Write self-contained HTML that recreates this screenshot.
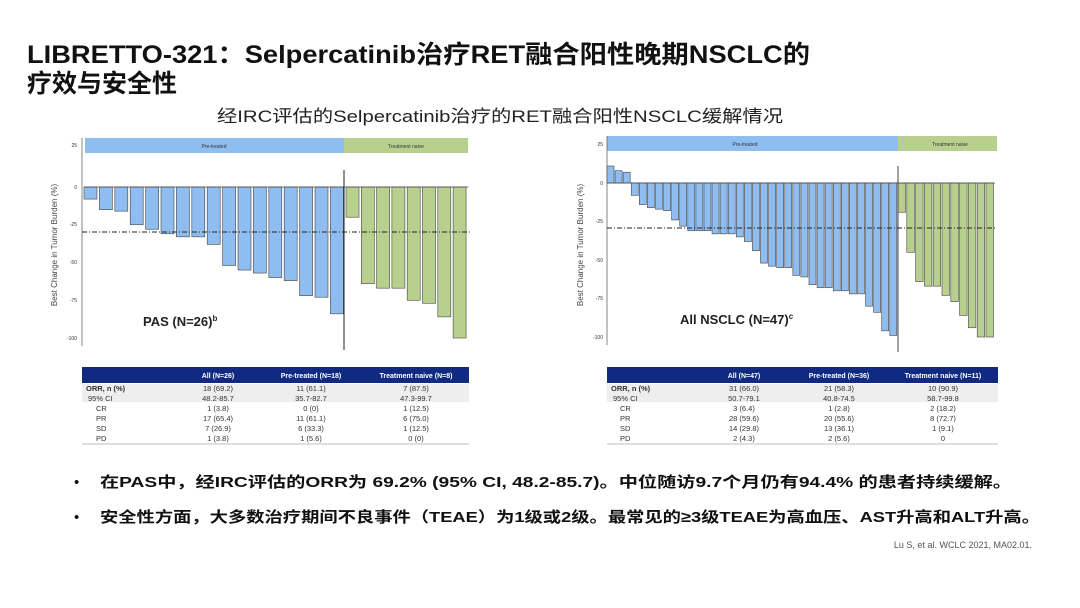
<!DOCTYPE html>
<html><head><meta charset="utf-8">
<style>
html,body{margin:0;padding:0;background:#fff;width:1080px;height:608px;overflow:hidden}
svg{display:block}
.cjk{font-family:"Liberation Sans","Noto Sans CJK SC",sans-serif}
.tk{font-family:"Liberation Sans",sans-serif;font-size:5px;fill:#333}
.tb{font-family:"Liberation Sans",sans-serif;font-size:7.5px;fill:#333}
.th{font-family:"Liberation Sans",sans-serif;font-size:7px;fill:#fff;font-weight:bold}
</style></head><body>
<svg id="s" width="1080" height="608" viewBox="0 0 1080 608" xmlns="http://www.w3.org/2000/svg">
<text x="27" y="63" class="cjk" font-size="25" font-weight="bold" fill="#111" textLength="783" lengthAdjust="spacingAndGlyphs">LIBRETTO-321：Selpercatinib治疗RET融合阳性晚期NSCLC的</text>
<text x="27" y="92" class="cjk" font-size="25" font-weight="bold" fill="#111">疗效与安全性</text>
<text x="217" y="122" class="cjk" font-size="17" fill="#222" textLength="566" lengthAdjust="spacingAndGlyphs">经IRC评估的Selpercatinib治疗的RET融合阳性NSCLC缓解情况</text>

<!-- left chart -->
<rect x="85" y="138" width="259" height="15" fill="#8fbdf0"/>
<rect x="344" y="138" width="124" height="15" fill="#b8d08e"/>
<text x="214" y="148" class="tk" font-size="6" text-anchor="middle">Pre-treated</text>
<text x="406" y="148" class="tk" font-size="6" text-anchor="middle">Treatment naive</text>
<line x1="82" y1="138" x2="82" y2="346" stroke="#666" stroke-width="0.8"/>
<g id="lb"></g>
<line x1="344" y1="170" x2="344" y2="350" stroke="#222" stroke-width="1"/>
<line x1="82" y1="232" x2="470" y2="232" stroke="#222" stroke-width="1" stroke-dasharray="5,2,1,2"/>
<text x="77" y="147" class="tk" text-anchor="end">25</text>
<text x="77" y="189" class="tk" text-anchor="end">0</text>
<text x="77" y="226" class="tk" text-anchor="end">-25</text>
<text x="77" y="264" class="tk" text-anchor="end">-50</text>
<text x="77" y="302" class="tk" text-anchor="end">-75</text>
<text x="77" y="340" class="tk" text-anchor="end">-100</text>
<text transform="translate(57,245) rotate(-90)" font-family="Liberation Sans,sans-serif" font-size="8" fill="#444" text-anchor="middle">Best Change in Tumor Burden (%)</text>
<text x="143" y="326" font-family="Liberation Sans,sans-serif" font-size="13" font-weight="bold" fill="#222">PAS (N=26)<tspan font-size="8" dy="-5">b</tspan></text>

<!-- right chart -->
<rect x="607" y="136" width="291" height="15" fill="#8fbdf0"/>
<rect x="898" y="136" width="99" height="15" fill="#b8d08e"/>
<text x="745" y="146" class="tk" font-size="6" text-anchor="middle">Pre-treated</text>
<text x="950" y="146" class="tk" font-size="6" text-anchor="middle">Treatment naive</text>
<line x1="607" y1="136" x2="607" y2="345" stroke="#666" stroke-width="0.8"/>
<g id="rb"></g>
<line x1="898" y1="166" x2="898" y2="352" stroke="#444" stroke-width="1"/>
<line x1="607" y1="228" x2="995" y2="228" stroke="#222" stroke-width="1" stroke-dasharray="5,2,1,2"/>
<text x="603" y="146" class="tk" text-anchor="end">25</text>
<text x="603" y="185" class="tk" text-anchor="end">0</text>
<text x="603" y="223" class="tk" text-anchor="end">-25</text>
<text x="603" y="262" class="tk" text-anchor="end">-50</text>
<text x="603" y="300" class="tk" text-anchor="end">-75</text>
<text x="603" y="339" class="tk" text-anchor="end">-100</text>
<text transform="translate(583,245) rotate(-90)" font-family="Liberation Sans,sans-serif" font-size="8" fill="#444" text-anchor="middle">Best Change in Tumor Burden (%)</text>
<text x="680" y="324" font-family="Liberation Sans,sans-serif" font-size="13" font-weight="bold" fill="#222">All NSCLC (N=47)<tspan font-size="8" dy="-5">c</tspan></text>

<!-- left table -->
<rect x="82" y="367" width="387" height="16" fill="#0f2a80"/>
<rect x="82" y="384" width="387" height="18" fill="#eeeeee"/>
<line x1="82" y1="444" x2="469" y2="444" stroke="#aaa" stroke-width="0.8"/>
<text x="218" y="378" class="th" text-anchor="middle">All (N=26)</text>
<text x="311" y="378" class="th" text-anchor="middle">Pre-treated (N=18)</text>
<text x="416" y="378" class="th" text-anchor="middle">Treatment naive (N=8)</text>
<g class="tb">
<text x="86" y="391" font-weight="bold">ORR, n (%)</text><text x="218" y="391" text-anchor="middle">18 (69.2)</text><text x="311" y="391" text-anchor="middle">11 (61.1)</text><text x="416" y="391" text-anchor="middle">7 (87.5)</text>
<text x="88" y="401">95% CI</text><text x="218" y="401" text-anchor="middle">48.2-85.7</text><text x="311" y="401" text-anchor="middle">35.7-82.7</text><text x="416" y="401" text-anchor="middle">47.3-99.7</text>
<text x="96" y="411">CR</text><text x="218" y="411" text-anchor="middle">1 (3.8)</text><text x="311" y="411" text-anchor="middle">0 (0)</text><text x="416" y="411" text-anchor="middle">1 (12.5)</text>
<text x="96" y="421">PR</text><text x="218" y="421" text-anchor="middle">17 (65.4)</text><text x="311" y="421" text-anchor="middle">11 (61.1)</text><text x="416" y="421" text-anchor="middle">6 (75.0)</text>
<text x="96" y="431">SD</text><text x="218" y="431" text-anchor="middle">7 (26.9)</text><text x="311" y="431" text-anchor="middle">6 (33.3)</text><text x="416" y="431" text-anchor="middle">1 (12.5)</text>
<text x="96" y="441">PD</text><text x="218" y="441" text-anchor="middle">1 (3.8)</text><text x="311" y="441" text-anchor="middle">1 (5.6)</text><text x="416" y="441" text-anchor="middle">0 (0)</text>
</g>

<!-- right table -->
<rect x="607" y="367" width="391" height="16" fill="#0f2a80"/>
<rect x="607" y="384" width="391" height="18" fill="#eeeeee"/>
<line x1="607" y1="444" x2="998" y2="444" stroke="#aaa" stroke-width="0.8"/>
<text x="744" y="378" class="th" text-anchor="middle">All (N=47)</text>
<text x="839" y="378" class="th" text-anchor="middle">Pre-treated (N=36)</text>
<text x="943" y="378" class="th" text-anchor="middle">Treatment naive (N=11)</text>
<g class="tb">
<text x="611" y="391" font-weight="bold">ORR, n (%)</text><text x="744" y="391" text-anchor="middle">31 (66.0)</text><text x="839" y="391" text-anchor="middle">21 (58.3)</text><text x="943" y="391" text-anchor="middle">10 (90.9)</text>
<text x="613" y="401">95% CI</text><text x="744" y="401" text-anchor="middle">50.7-79.1</text><text x="839" y="401" text-anchor="middle">40.8-74.5</text><text x="943" y="401" text-anchor="middle">58.7-99.8</text>
<text x="620" y="411">CR</text><text x="744" y="411" text-anchor="middle">3 (6.4)</text><text x="839" y="411" text-anchor="middle">1 (2.8)</text><text x="943" y="411" text-anchor="middle">2 (18.2)</text>
<text x="620" y="421">PR</text><text x="744" y="421" text-anchor="middle">28 (59.6)</text><text x="839" y="421" text-anchor="middle">20 (55.6)</text><text x="943" y="421" text-anchor="middle">8 (72.7)</text>
<text x="620" y="431">SD</text><text x="744" y="431" text-anchor="middle">14 (29.8)</text><text x="839" y="431" text-anchor="middle">13 (36.1)</text><text x="943" y="431" text-anchor="middle">1 (9.1)</text>
<text x="620" y="441">PD</text><text x="744" y="441" text-anchor="middle">2 (4.3)</text><text x="839" y="441" text-anchor="middle">2 (5.6)</text><text x="943" y="441" text-anchor="middle">0</text>
</g>

<!-- bullets -->
<text x="74" y="487" class="cjk" font-size="15" fill="#111">•</text>
<text x="100" y="487" class="cjk" font-size="15" font-weight="bold" fill="#111" textLength="912" lengthAdjust="spacingAndGlyphs">在PAS中，经IRC评估的ORR为 69.2% (95% CI, 48.2-85.7)。中位随访9.7个月仍有94.4% 的患者持续缓解。</text>
<text x="74" y="522" class="cjk" font-size="15" fill="#111">•</text>
<text x="100" y="522" class="cjk" font-size="15" font-weight="bold" fill="#111" textLength="940" lengthAdjust="spacingAndGlyphs">安全性方面，大多数治疗期间不良事件（TEAE）为1级或2级。最常见的≥3级TEAE为高血压、AST升高和ALT升高。</text>
<text x="1032" y="548" font-family="Liberation Sans,sans-serif" font-size="9" fill="#555" text-anchor="end">Lu S, et al. WCLC 2021, MA02.01.</text>
</svg>
<script>
var NS="http://www.w3.org/2000/svg";
function bars(g,x0,pitch,w,y0,k,vals,col){
  var el=document.getElementById(g);
  vals.forEach(function(v,i){
    var r=document.createElementNS(NS,"rect");
    var h=Math.abs(v)*k, y=v<0?y0:y0-h;
    r.setAttribute("x",x0+i*pitch);r.setAttribute("y",y);
    r.setAttribute("width",w);r.setAttribute("height",h);
    r.setAttribute("fill",col);r.setAttribute("stroke","#444");r.setAttribute("stroke-width","0.6");
    el.appendChild(r);
  });
  var l=document.createElementNS(NS,"line");
  l.setAttribute("x1",x0);l.setAttribute("x2",x0+vals.length*pitch);
  l.setAttribute("y1",y0);l.setAttribute("y2",y0);l.setAttribute("stroke","#444");l.setAttribute("stroke-width","0.8");
  el.appendChild(l);
}
bars("lb",84,15.4,13,187,1.51,[-8,-15,-16,-25,-28,-31,-33,-33,-38,-52,-55,-57,-60,-62,-72,-73,-84],"#8fbdf0");
bars("lb",346,15.3,13,187,1.51,[-20,-64,-67,-67,-75,-77,-86,-100],"#b8d08e");
bars("rb",607,8.08,7,183,1.54,[11,8,7,-8,-14,-16,-17,-18,-24,-28,-31,-31,-31,-33,-33,-33,-35,-38,-44,-52,-54,-55,-55,-60,-61,-66,-68,-68,-70,-70,-72,-72,-80,-84,-96,-99],"#8fbdf0");
bars("rb",898,8.8,7.5,183,1.54,[-19,-45,-64,-67,-67,-73,-77,-86,-94,-100,-100],"#b8d08e");
</script>
</body></html>
